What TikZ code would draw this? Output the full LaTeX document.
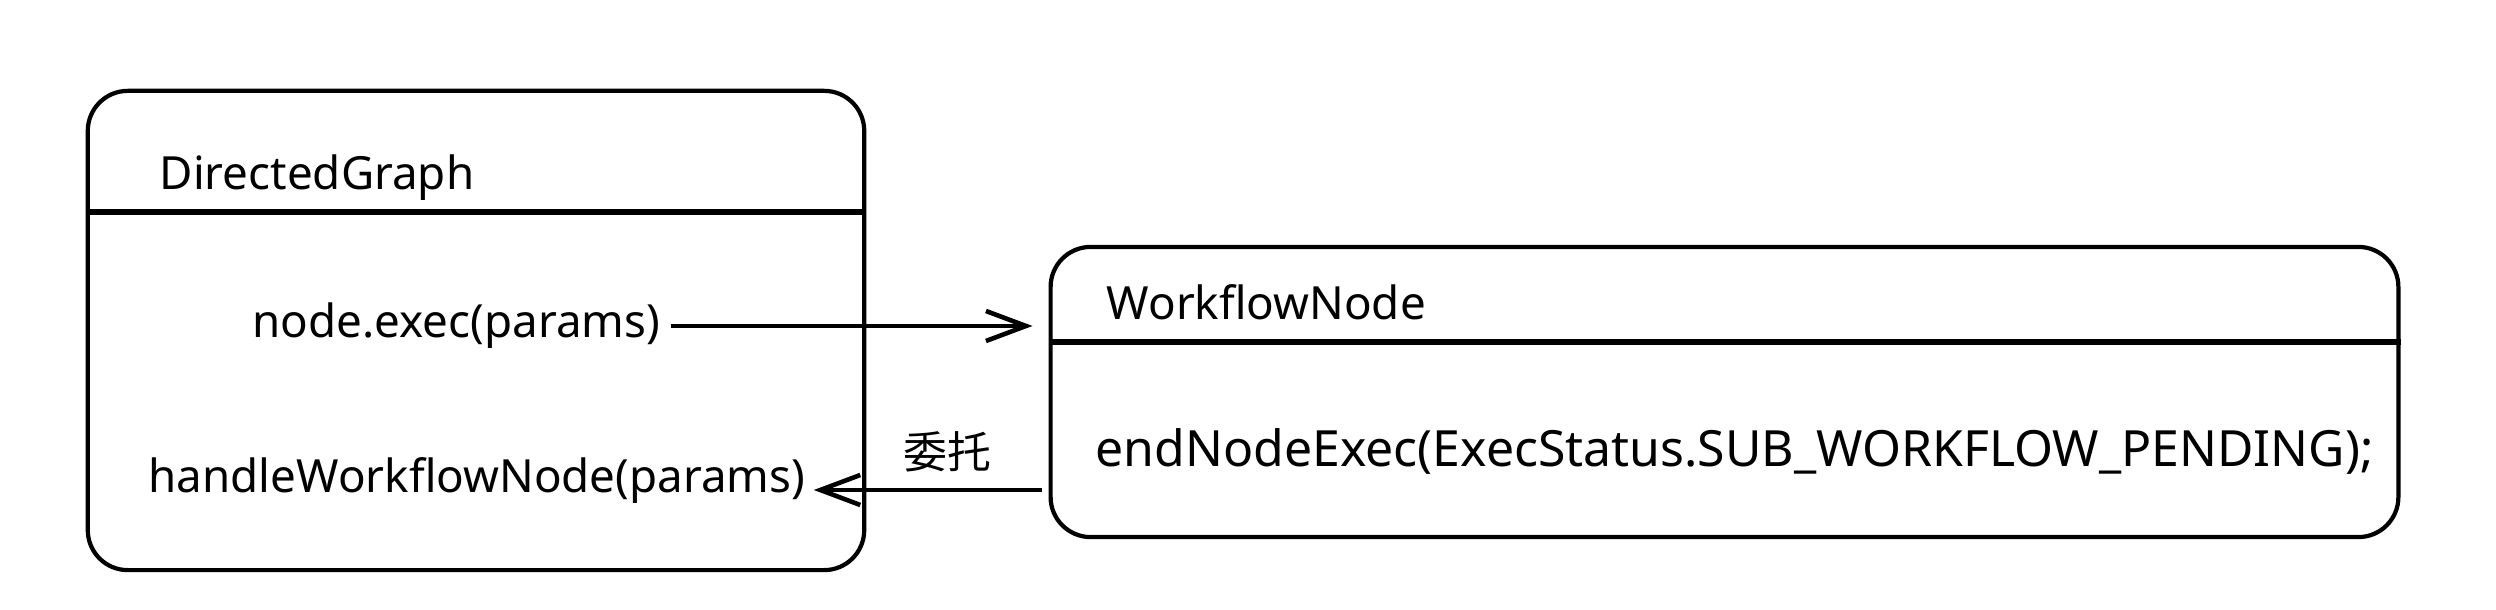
\documentclass[tikz,border=0pt]{standalone}
\usepackage{fontspec}
\setmainfont{Noto Sans}
\newfontfamily\cjk{Noto Sans CJK SC}
\usetikzlibrary{arrows.meta}

\begin{document}
\begin{tikzpicture}[
  x=0.01cm, y=-0.01cm,
  font=\fontsize{13}{16}\selectfont,
  box/.style={draw, line width=1.2pt, rounded corners=0.4cm, inner sep=0pt},
  sep/.style={line width=1.6pt},
  txt/.style={inner sep=0pt, anchor=west},
  arr/.style={-{Straight Barb[length=4mm, width=3mm]}, line width=1.3pt}]
\useasboundingbox (0,0) rectangle (2496,610);
% classes
\node[box, minimum width=7.76cm, minimum height=4.79cm] (graph) at (476,330.5) {};
\node[box, minimum width=13.47cm, minimum height=2.9cm] (flow) at (1724.5,392) {};
\draw[sep] (graph.west |- 0,212) -- (graph.east |- 0,212);
\draw[sep] (flow.west |- 0,342) -- (flow.east |- 0,342);
% texts
\node[txt] (gtitle) at (159,178) {DirectedGraph};
\node[txt] (exec) at (252,326) {node.exec(params)};
\node[txt] (handle) at (148,481) {handleWorkflowNode(params)};
\node[txt] (wtitle) at (1106,302) {WorkflowNode};
\node[txt, font=\fontsize{14.2}{17}\selectfont] (endexec) at (1095,451) {endNodeExec(ExecStatus.SUB\_WORKFLOW\_PENDING);};
% calls
\draw[arr] ([xshift=0.1cm]exec.east) -- ([xshift=-0.16cm]flow.west |- exec.east);
\coordinate (back) at (0,490);
\draw[arr] ([xshift=-0.07cm]flow.west |- back) -- ([xshift=0.08cm]handle.east |- back);
\node[font=\cjk\fontsize{12.5}{15}\selectfont] (lbl) at (947,452) {委托};
\end{tikzpicture}
\end{document}
